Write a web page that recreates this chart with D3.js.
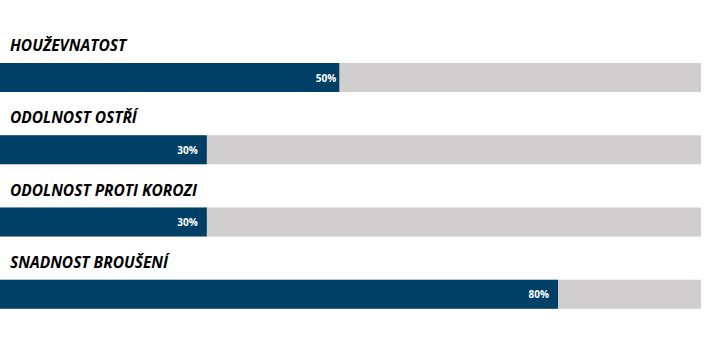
<!DOCTYPE html>
<html><head><meta charset="utf-8">
<script src="https://cdn.jsdelivr.net/npm/d3@7"></script>
<style>body{margin:0;background:#fff}svg{display:block}</style>
</head><body>
<svg id="c" width="728" height="340"></svg>
<script>
const categories = ["HOUŽEVNATOST", "ODOLNOST OSTŘÍ", "ODOLNOST PROTI KOROZI", "SNADNOST BROUŠENÍ"];
const values = [48.4, 29.5, 29.5, 79.6];
const valueLabels = ["50%", "30%", "30%", "80%"];
const maxValue = 100;

const svg = d3.select("#c");
const x = d3.scaleLinear().domain([0, maxValue]).range([0, 701]);
const y = d3.scaleBand().domain(categories).range([63, 352]).paddingInner(0).paddingOuter(0);
const barH = 29;

const g = svg.selectAll("g.row").data(categories).join("g").attr("class", "row")
  .attr("transform", d => `translate(0,${y(d)})`);

g.append("rect").attr("x", x(0)).attr("y", 0).attr("width", x(maxValue) - x(0)).attr("height", barH).attr("fill", "#d0cece");
g.append("rect").attr("x", x(0)).attr("y", 0).attr("width", (d, i) => x(values[i]) - x(0)).attr("height", barH).attr("fill", "#003f66");
g.append("text").attr("x", 10).attr("y", -12)
  .attr("font-family", "Open Sans, sans-serif").attr("font-weight", "bold").attr("font-style", "italic")
  .attr("font-size", 15.5).attr("fill", "#000").text(d => d);
g.append("text").attr("x", (d, i) => x(values[i]) - (i === 0 ? 3 : 9)).attr("y", barH / 2 + 4)
  .attr("text-anchor", "end").attr("font-family", "Open Sans, sans-serif").attr("font-weight", "bold")
  .attr("font-size", 10).attr("fill", "#fff").text((d, i) => valueLabels[i]);
</script>
</body></html>
